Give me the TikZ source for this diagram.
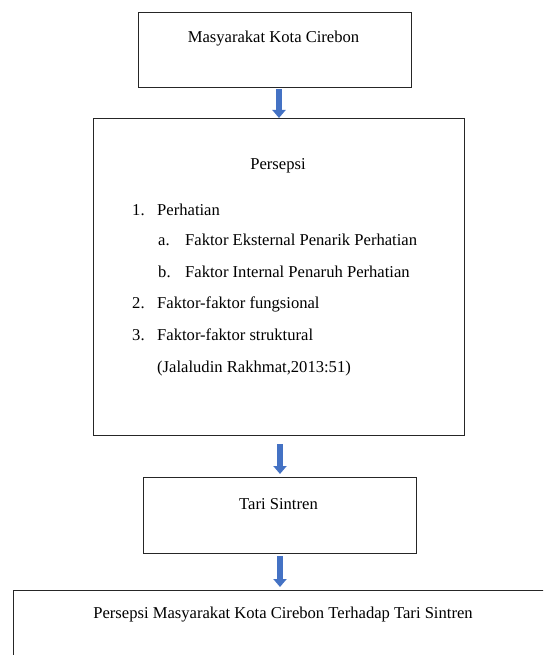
\documentclass[tikz,border=0pt]{standalone}
\usepackage{fontspec}
\setmainfont{Liberation Serif}
\usetikzlibrary{arrows.meta}
\definecolor{arrblue}{HTML}{4472C4}
\definecolor{boxline}{HTML}{262626}
\begin{document}
\begin{tikzpicture}[x=1pt,y=-1pt,
  box/.style={draw=boxline,line width=1.4pt,rectangle,inner sep=0pt,anchor=north west},
  txt/.style={inner sep=0pt,font=\fontsize{16.6}{19}\selectfont,anchor=base},
  ltxt/.style={txt,anchor=base west},
  flow/.style={arrblue,line width=6.5pt,-{Triangle[width=13pt,length=8pt]}}]
\useasboundingbox (0,0) rectangle (543,655);
\clip (0,0) rectangle (543,655);
\node[box,minimum width=273pt,minimum height=75pt] (b1) at (138,12) {};
\node[box,minimum width=371pt,minimum height=317pt] (b2) at (93,118) {};
\node[box,minimum width=273pt,minimum height=76pt] (b3) at (143,477) {};
\node[box,minimum width=600pt,minimum height=120pt] (b4) at (13,590) {};
\coordinate (ax) at (280,0);
\coordinate (ax1) at (279,0);
\node[txt] (t1) at (273.5,43) {Masyarakat Kota Cirebon};
\node[txt] (t2) at (278,169) {Persepsi};
\node[ltxt] (n1) at (132,215) {1.};
\node[ltxt] (l1) at (157,215) {Perhatian};
\node[ltxt] (na) at (158,245) {a.};
\node[ltxt] (la) at (185,245) {Faktor Eksternal Penarik Perhatian};
\node[ltxt] (nb) at (158,277) {b.};
\node[ltxt] (lb) at (185,277) {Faktor Internal Penaruh Perhatian};
\node[ltxt] (n2) at (132,308) {2.};
\node[ltxt] (l2) at (157,308) {Faktor-faktor fungsional};
\node[ltxt] (n3) at (132,340) {3.};
\node[ltxt] (l3) at (157,340) {Faktor-faktor struktural};
\node[ltxt] (src) at (157,372) {(Jalaludin Rakhmat,2013:51)};
\node[txt] (t3) at (278.5,509) {Tari Sintren};
\node[txt] (t4) at (283,618) {Persepsi Masyarakat Kota Cirebon Terhadap Tari Sintren};
\draw[flow,shorten <=1pt] (b1.south -| ax1) -- (b2.north -| ax1);
\draw[flow,shorten <=8pt,shorten >=3pt] (b2.south -| ax) -- (b3.north -| ax);
\draw[flow,shorten <=2pt,shorten >=3pt] (b3.south -| ax) -- (b4.north -| ax);
\end{tikzpicture}
\end{document}
